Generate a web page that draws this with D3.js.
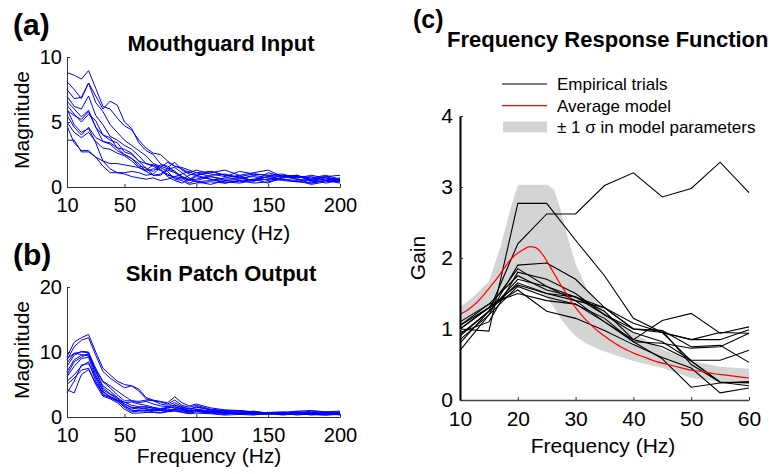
<!DOCTYPE html>
<html>
<head>
<meta charset="utf-8">
<script src="https://cdn.jsdelivr.net/npm/d3@7"></script>
<style>
  body { margin: 0; background: #fff; }
  text { font-family: Arial, "Liberation Sans", Helvetica, sans-serif; fill: #000; }
</style>
</head>
<body>
<svg id="chart" width="769" height="474"></svg>
<script>
'use strict';

// ---- data ----
var specFreq = [10,15,20,25,30,35,40,45,50,55,60,65,70,75,80,85,90,95,100,110,120,130,140,150,160,170,180,190,200];

// (a) mouthguard input magnitude, one row per trial
var mouthguard = [
  [8.8,8.6,8.3,8.95,7.6,6.2,6.0,5.3,4.7,4.4,3.6,3.0,2.6,2.5,2.0,1.6,1.5,1.3,1.1,1.2,0.9,0.8,1.0,0.9,0.8,0.9,0.5,0.6,0.5],
  [8.1,7.5,6.8,8.0,7.0,6.0,6.6,6.3,5.0,4.5,3.4,2.8,2.5,1.8,1.5,1.9,1.3,1.0,0.9,1.1,1.3,0.9,1.1,1.3,0.8,0.9,0.6,0.8,0.9],
  [7.5,6.8,6.9,8.0,6.5,5.8,4.8,4.2,3.6,3.2,2.8,2.4,1.8,1.6,1.4,1.2,0.8,0.5,0.6,0.9,1.0,0.7,0.5,0.6,0.7,0.8,0.6,0.3,0.5],
  [7.0,6.2,6.0,7.0,5.5,4.8,3.9,3.6,3.2,2.9,2.4,1.8,1.7,1.5,1.9,1.6,1.4,1.1,1.3,1.0,0.8,1.2,1.0,0.9,1.0,0.7,0.9,0.7,0.6],
  [6.6,6.0,5.4,5.9,4.6,4.0,3.8,3.0,2.9,2.6,2.0,1.4,1.2,1.7,1.6,1.2,0.7,0.3,0.5,0.8,0.6,0.7,0.8,0.5,0.7,0.9,0.4,0.5,0.3],
  [6.3,5.6,5.0,5.6,5.1,4.0,3.6,3.4,2.7,2.5,2.0,1.8,1.6,1.3,0.9,0.8,0.7,0.5,0.8,0.6,0.3,0.5,0.6,0.8,0.9,0.6,0.5,0.7,0.4],
  [5.9,5.5,5.2,5.8,4.6,3.5,3.4,3.0,2.5,2.2,1.6,1.5,0.9,1.0,1.4,1.5,1.1,0.7,0.4,0.5,0.7,0.9,0.4,1.1,0.8,0.7,0.8,0.5,0.7],
  [5.5,4.6,4.0,4.6,3.8,3.5,3.3,2.8,2.5,2.2,1.8,1.2,1.4,1.3,1.0,0.7,0.6,0.9,1.1,0.8,0.5,0.6,0.9,0.7,0.5,0.4,0.6,0.8,0.5],
  [5.0,4.2,3.8,4.2,3.5,3.0,2.9,2.6,2.4,2.0,1.5,1.3,1.7,1.4,0.8,0.5,0.3,0.6,0.4,0.2,0.5,0.4,0.6,0.3,0.8,0.6,0.3,0.5,0.4],
  [4.7,3.4,2.8,2.8,2.3,1.6,1.1,1.1,1.1,1.2,1.1,0.9,1.0,1.5,1.2,0.6,0.5,0.2,0.3,0.4,0.3,0.5,0.3,0.4,0.6,0.5,0.2,0.4,0.6],
  [3.6,3.6,2.7,2.7,2.3,2.0,1.8,1.8,1.7,1.6,1.5,1.2,0.9,0.9,1.3,1.1,0.8,0.6,0.9,1.2,0.9,0.7,0.5,0.6,0.9,0.8,0.7,0.9,0.6],
  [6.0,4.8,4.2,4.5,3.4,2.0,1.4,1.1,1.0,0.8,0.7,0.6,0.7,0.5,0.6,0.8,1.0,1.2,0.9,0.6,0.4,0.3,0.5,0.8,0.6,0.4,0.3,0.5,0.4]
];

// (b) skin patch output magnitude
var skinPatch = [
  [9.3,11.5,12.2,12.7,10.0,7.5,6.5,5.5,5.0,4.8,4.0,2.8,2.5,2.3,2.0,2.6,1.8,1.5,1.8,1.2,1.0,0.9,0.6,0.7,0.8,0.6,0.9,0.7,0.5],
  [8.8,10.8,11.8,12.2,9.5,7.0,6.0,5.2,4.5,4.8,4.3,3.0,2.6,2.4,2.2,3.1,2.2,1.7,2.0,1.4,1.1,1.0,0.8,0.6,0.7,0.9,1.0,0.8,0.9],
  [8.3,9.8,10.0,9.9,7.5,5.5,4.8,4.0,3.2,2.5,2.4,2.6,2.5,2.0,1.8,2.2,1.6,1.3,1.2,0.9,0.8,1.0,0.7,0.5,0.6,0.8,0.7,0.5,0.6],
  [7.8,9.5,10.1,10.0,7.0,4.5,3.6,3.0,2.2,2.3,2.0,1.8,1.5,1.3,1.5,1.9,1.4,1.0,1.5,1.1,0.6,0.5,0.7,0.4,0.6,0.5,0.7,0.6,0.4],
  [7.0,8.8,9.5,9.6,6.5,4.2,3.5,2.8,2.0,1.4,1.2,1.3,1.1,1.0,1.2,1.1,1.0,0.7,1.2,0.8,0.7,0.4,0.5,0.6,0.3,0.5,0.4,0.3,0.5],
  [6.2,7.8,9.0,9.2,6.0,3.5,3.0,2.4,1.8,1.0,1.0,0.9,1.1,1.0,0.9,1.2,1.0,0.8,1.0,0.9,0.5,0.6,0.4,0.5,0.6,0.3,0.5,0.6,0.3],
  [5.5,6.5,7.8,8.5,5.5,3.4,3.0,2.5,1.5,0.8,0.9,1.0,0.8,0.7,0.9,1.0,0.8,0.6,0.8,0.6,0.4,0.7,0.5,0.4,0.5,0.6,0.3,0.5,0.7],
  [5.0,6.0,7.2,7.5,5.0,3.2,2.8,2.2,1.2,0.6,0.6,0.7,0.7,0.6,0.8,0.9,0.7,0.5,0.6,0.5,0.3,0.4,0.3,0.6,0.4,0.5,0.4,0.3,0.4],
  [4.2,3.7,6.5,7.3,5.2,3.8,3.2,2.6,2.0,1.5,1.4,1.2,1.0,1.2,1.4,1.6,1.2,0.9,1.0,0.7,0.8,0.5,0.6,0.7,0.5,0.8,0.6,0.4,0.6],
  [3.7,5.5,8.0,8.2,6.2,4.0,3.0,2.6,2.3,1.8,1.6,1.5,1.4,1.2,1.0,1.3,1.2,0.8,1.1,0.9,0.6,0.8,0.4,0.5,0.7,0.6,0.5,0.7,0.8],
  [9.0,9.8,9.6,9.4,7.2,5.4,4.5,3.4,2.5,2.5,2.2,2.4,2.0,1.7,1.6,1.8,1.5,1.2,1.6,1.1,0.9,0.7,0.9,0.6,0.5,0.4,0.6,0.8,0.6],
  [6.5,8.5,9.2,9.8,7.0,4.8,4.0,3.0,1.6,1.2,1.5,1.6,1.3,1.1,1.4,1.5,1.3,1.0,0.9,0.7,0.6,0.5,0.8,0.6,0.4,0.7,0.5,0.4,0.5]
];

// (c) frequency response function
var frfFreq = [10,15,20,25,30,35,40,45,50,55,60];
var empiricalGain = [
  [0.92,1.25,2.2,2.62,2.62,3.02,3.2,2.86,2.98,3.35,2.92],
  [1.0,0.97,2.77,2.77,2.25,1.75,1.15,0.95,0.55,0.25,0.25],
  [0.85,1.2,1.9,1.93,1.7,1.3,1.0,0.98,0.5,0.25,0.2],
  [1.05,1.3,1.85,1.6,1.45,1.25,0.85,1.12,1.22,0.94,1.03],
  [0.95,1.1,1.8,1.7,1.5,1.2,1.0,0.95,0.85,0.85,0.99],
  [1.1,1.35,1.75,1.55,1.45,1.3,1.0,0.98,0.75,0.77,0.53],
  [0.8,1.25,1.65,1.5,1.4,1.3,1.08,0.95,0.85,0.95,0.94],
  [1.0,1.3,1.62,1.5,1.45,1.2,0.95,0.82,0.56,0.56,0.70],
  [0.7,1.2,1.6,1.45,1.35,1.15,0.82,0.8,0.73,0.75,0.94],
  [1.05,1.35,1.5,1.4,1.35,1.1,0.82,0.58,0.18,0.24,0.26],
  [1.0,1.3,1.55,1.25,1.15,0.98,0.78,0.6,0.45,0.1,0.17],
  [0.9,1.25,1.7,1.6,1.4,1.1,0.85,0.75,0.55,0.25,0.24]
];

var modelFreq = [10,11,12,13,14,15,16,17,18,19,20,21,22,23,24,25,26,27,28,29,30,31,32,33,34,35,36,37,38,39,40,42,44,46,48,50,52,54,56,58,60];
var modelGain = [1.21,1.25,1.31,1.38,1.47,1.57,1.67,1.78,1.9,2.0,2.07,2.12,2.16,2.15,2.08,1.96,1.82,1.68,1.55,1.42,1.3,1.2,1.11,1.03,0.96,0.9,0.84,0.79,0.74,0.7,0.66,0.6,0.54,0.5,0.46,0.42,0.4,0.37,0.35,0.33,0.31];

var bandFreq  = [10,12,15,17,18.7,19.6,20.1,25.1,26.3,27.4,28.6,30,31,32,34.4,37.3,40,45,50,55,60];
var bandUpper = [1.31,1.43,1.67,2.16,2.68,2.93,3.03,3.03,2.96,2.68,2.3,1.92,1.74,1.55,1.31,1.08,0.94,0.72,0.55,0.47,0.44];
var bandLower = [1.05,1.12,1.3,1.5,1.62,1.7,1.72,1.43,1.3,1.15,1.02,0.9,0.84,0.79,0.7,0.62,0.55,0.45,0.31,0.26,0.27];

var specTicks = [10,50,100,150,200];
var legendLabels = ["Empirical trials", "Average model", "\u00b1 1 \u03c3 in model parameters"];

var svg = d3.select("#chart");

// ---- small helpers ----
function styleAxis(g, fontSize, domainWidth, domainColor) {
  g.select(".domain").attr("stroke", domainColor).attr("stroke-width", domainWidth);
  g.selectAll(".tick line").attr("stroke", "#333").attr("stroke-width", 1);
  g.selectAll(".tick text")
    .attr("fill", "#000")
    .style("font-size", fontSize + "px")
    .style("font-family", "Arial, 'Liberation Sans', sans-serif");
}

function spectrumPanel(cfg) {
  var x = d3.scaleLinear().domain([10, 200]).range([67, 340]);
  var y = d3.scaleLinear().domain([0, cfg.ymax]).range([cfg.bottom, cfg.bottom - 130]);

  var line = d3.line()
    .x(function(d, i) { return x(specFreq[i]); })
    .y(function(d) { return y(d); });

  svg.append("g").selectAll("path")
    .data(cfg.rows)
    .enter().append("path")
    .attr("d", line)
    .attr("fill", "none")
    .attr("stroke", "#0000ff")
    .attr("stroke-width", 1);

  var gx = svg.append("g")
    .attr("transform", "translate(0," + cfg.bottom + ")")
    .call(d3.axisBottom(x).tickValues(specTicks).tickSizeInner(-3).tickSizeOuter(0).tickPadding(11));
  styleAxis(gx, 20, 1, "#333");

  var gy = svg.append("g")
    .attr("transform", "translate(67,0)")
    .call(d3.axisLeft(y).tickValues(cfg.yticks).tickSizeInner(-3).tickSizeOuter(0).tickPadding(5));
  styleAxis(gy, 20, 1, "#333");

  svg.append("text")
    .attr("x", 13).attr("y", cfg.bottom - 152)
    .style("font-size", "30px").style("font-weight", "bold")
    .text(cfg.tag);

  svg.append("text")
    .attr("x", 221).attr("y", cfg.bottom - 136)
    .attr("text-anchor", "middle")
    .style("font-size", "22px").style("font-weight", "bold")
    .text(cfg.title);

  svg.append("text")
    .attr("x", cfg.xlabelX).attr("y", cfg.xlabelY)
    .attr("text-anchor", "middle")
    .style("font-size", "21px")
    .text("Frequency (Hz)");

  svg.append("text")
    .attr("transform", "translate(29," + (cfg.bottom - 67) + ") rotate(-90)")
    .attr("text-anchor", "middle")
    .style("font-size", "21px")
    .text("Magnitude");
}

spectrumPanel({ rows: mouthguard, ymax: 10, yticks: [0, 5, 10], bottom: 187,
  tag: "(a)", title: "Mouthguard Input", xlabelX: 218, xlabelY: 240 });
spectrumPanel({ rows: skinPatch, ymax: 20, yticks: [0, 10, 20], bottom: 417,
  tag: "(b)", title: "Skin Patch Output", xlabelX: 209, xlabelY: 463 });

// ---- panel (c) ----
var xc = d3.scaleLinear().domain([10, 60]).range([460, 749]);
var yc = d3.scaleLinear().domain([0, 4]).range([400, 116]);

var band = d3.area()
  .x(function(d, i) { return xc(bandFreq[i]); })
  .y0(function(d, i) { return yc(bandLower[i]); })
  .y1(function(d) { return yc(d); });

svg.append("path")
  .datum(bandUpper)
  .attr("d", band)
  .attr("fill", "#d4d4d4");

var frfLine = d3.line()
  .x(function(d, i) { return xc(frfFreq[i]); })
  .y(function(d) { return yc(d); });

svg.append("g").selectAll("path")
  .data(empiricalGain)
  .enter().append("path")
  .attr("d", frfLine)
  .attr("fill", "none")
  .attr("stroke", "#000")
  .attr("stroke-width", 1.1);

var modelLine = d3.line()
  .x(function(d, i) { return xc(modelFreq[i]); })
  .y(function(d) { return yc(d); })
  .curve(d3.curveMonotoneX);

svg.append("path")
  .datum(modelGain)
  .attr("d", modelLine)
  .attr("fill", "none")
  .attr("stroke", "#ff0000")
  .attr("stroke-width", 1.2);

var gxc = svg.append("g")
  .attr("transform", "translate(0,400)")
  .call(d3.axisBottom(xc).ticks(6).tickSizeInner(-3).tickSizeOuter(0).tickPadding(11));
styleAxis(gxc, 21, 1.3, "#444");

var gyc = svg.append("g")
  .attr("transform", "translate(460,0)")
  .call(d3.axisLeft(yc).ticks(4).tickSizeInner(-3).tickSizeOuter(0).tickPadding(7));
styleAxis(gyc, 21, 2, "#000");

svg.append("text")
  .attr("x", 413).attr("y", 28)
  .style("font-size", "25px").style("font-weight", "bold")
  .text("(c)");

svg.append("text")
  .attr("x", 447).attr("y", 47)
  .style("font-size", "22px").style("font-weight", "bold")
  .text("Frequency Response Function");

svg.append("text")
  .attr("x", 603).attr("y", 453)
  .attr("text-anchor", "middle")
  .style("font-size", "21px")
  .text("Frequency (Hz)");

svg.append("text")
  .attr("transform", "translate(425,258) rotate(-90)")
  .attr("text-anchor", "middle")
  .style("font-size", "21px")
  .text("Gain");

// legend
var legend = svg.append("g").selectAll("g")
  .data(legendLabels)
  .enter().append("g")
  .attr("transform", function(d, i) { return "translate(502," + (84 + i * 21.7) + ")"; });

legend.each(function(d, i) {
  var g = d3.select(this);
  if (i < 2) {
    g.append("line")
      .attr("x1", 0).attr("x2", 45).attr("y1", 0).attr("y2", 0)
      .attr("stroke", i === 0 ? "#000" : "#ff0000")
      .attr("stroke-width", 1.2);
  } else {
    g.append("rect")
      .attr("x", 1).attr("y", -6).attr("width", 44).attr("height", 11)
      .attr("fill", "#d4d4d4");
  }
  g.append("text")
    .attr("x", 55).attr("y", 6)
    .style("font-size", "17px")
    .text(d);
});
</script>
</body>
</html>
